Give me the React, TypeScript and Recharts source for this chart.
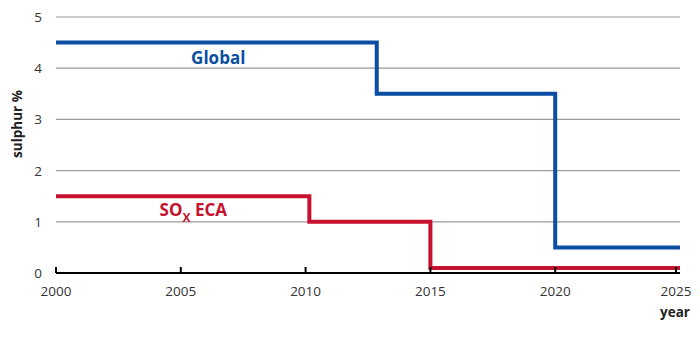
import { LineChart, Line, XAxis, YAxis, CartesianGrid, ReferenceDot, Label } from "recharts";

// sulphur limits (%), step changes
const globalYears = [2000, 2012.85, 2020, 2025];
const globalSulphur = [4.5, 3.5, 0.5, 0.5];
const ecaYears = [2000, 2010.15, 2015, 2025];
const ecaSulphur = [1.5, 1.0, 0.1, 0.1];

const xTicks = [2000, 2005, 2010, 2015, 2020, 2025];
const yTicks = [0, 1, 2, 3, 4, 5];

const BLUE = "#0b4ea2";
const RED = "#c4122f";
const FONT = "'Open Sans', 'Noto Sans', sans-serif";

const globalData = globalYears.map((year, i) => ({ year, v: globalSulphur[i] }));
const ecaData = ecaYears.map((year, i) => ({ year, v: ecaSulphur[i] }));

const XTick = ({ x, y, payload }: any) => (
  <g>
    <line x1={x} y1={y} x2={x} y2={y - 6} stroke="#000" strokeWidth={2} />
    <text x={x} y={y + 23} textAnchor="middle" fontSize={13.5} fill="#333">
      {payload.value}
    </text>
  </g>
);

const YTick = ({ x, y, payload }: any) => (
  <text x={x - 14} y={y + 5} textAnchor="end" fontSize={13.5} fill="#333">
    {payload.value}
  </text>
);

export default function App() {
  return (
    <div style={{ width: 684, height: 320, fontFamily: FONT }}>
      <LineChart
        width={684}
        height={320}
        margin={{ top: 9, right: 12, left: 0, bottom: 25 }}
        style={{ fontFamily: FONT, overflow: "visible" }}
      >
        <CartesianGrid horizontal vertical={false} stroke="#9a9a9a" strokeWidth={1.2} />
        <XAxis
          dataKey="year"
          type="number"
          domain={[2000, 2025]}
          ticks={xTicks}
          allowDuplicatedCategory={false}
          height={30}
          tickLine={false}
          tickSize={0}
          tickMargin={0}
          axisLine={{ stroke: "#000", strokeWidth: 2 }}
          tick={<XTick />}
        >
          <Label
            content={({ viewBox }: any) => (
              <text
                x={viewBox.x + viewBox.width - 5}
                y={viewBox.y + 44}
                textAnchor="middle"
                fontSize={13.5}
                fontWeight="bold"
                fill="#222"
              >
                year
              </text>
            )}
          />
        </XAxis>
        <YAxis
          type="number"
          domain={[0, 5]}
          ticks={yTicks}
          width={48}
          axisLine={false}
          tickLine={false}
          tickSize={0}
          tickMargin={0}
          tick={<YTick />}
        >
          <Label
            content={({ viewBox }: any) => (
              <text
                x={9}
                y={viewBox.y + 107}
                transform={`rotate(-90, 9, ${viewBox.y + 107})`}
                textAnchor="middle"
                dominantBaseline="central"
                fontSize={13.5}
                fontWeight="bold"
                fill="#222"
              >
                sulphur %
              </text>
            )}
          />
        </YAxis>
        <Line
          data={globalData}
          dataKey="v"
          type="stepAfter"
          stroke={BLUE}
          strokeWidth={4}
          dot={false}
          activeDot={false}
          isAnimationActive={false}
        />
        <Line
          data={ecaData}
          dataKey="v"
          type="stepAfter"
          stroke={RED}
          strokeWidth={4}
          dot={false}
          activeDot={false}
          isAnimationActive={false}
        />
        <ReferenceDot
          x={2006.5}
          y={4.5}
          r={0}
          shape={(p: any) => (
            <text x={p.cx} y={p.cy + 21} textAnchor="middle" fontSize={17} fontWeight="bold" fill={BLUE}>
              Global
            </text>
          )}
        />
        <ReferenceDot
          x={2005.5}
          y={1.5}
          r={0}
          shape={(p: any) => (
            <text x={p.cx} y={p.cy + 20} textAnchor="middle" fontSize={17} fontWeight="bold" fill={RED}>
              SO
              <tspan fontSize={12} dy={6}>X</tspan>
              <tspan dy={-6}> ECA</tspan>
            </text>
          )}
        />
      </LineChart>
    </div>
  );
}
